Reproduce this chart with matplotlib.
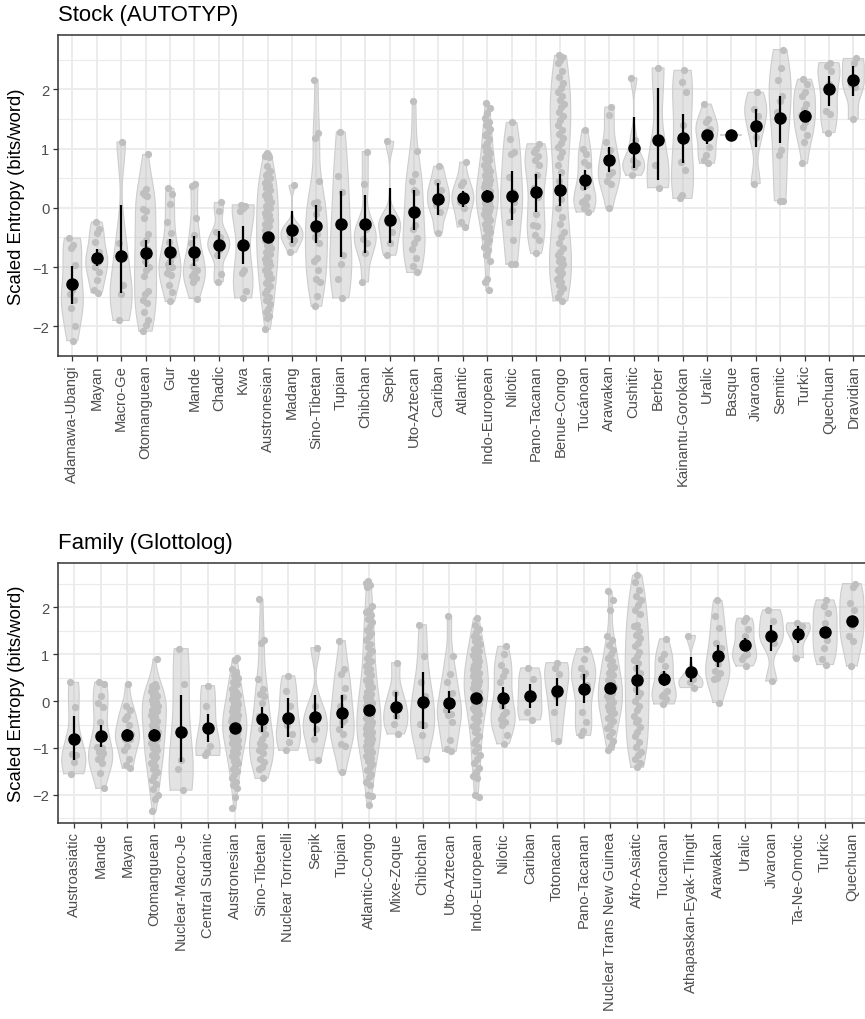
import numpy as np
import matplotlib
matplotlib.use("Agg")
import matplotlib.pyplot as plt

plt.rcParams['font.family'] = ['Liberation Sans', 'DejaVu Sans']

# ---------------- Panel 1: Stock (AUTOTYP) ----------------
stock_names = ["Adamawa-Ubangi", "Mayan", "Macro-Ge", "Otomanguean", "Gur", "Mande", "Chadic", "Kwa",
               "Austronesian", "Madang", "Sino-Tibetan", "Tupian", "Chibchan", "Sepik", "Uto-Aztecan",
               "Cariban", "Atlantic", "Indo-European", "Nilotic", "Pano-Tacanan", "Benue-Congo",
               "Tucánoan", "Arawakan", "Cushitic", "Berber", "Kainantu-Gorokan", "Uralic", "Basque",
               "Jivaroan", "Semitic", "Turkic", "Quechuan", "Dravidian"]

st_adamawa = [-0.51, -0.62, -0.68, -0.96, -1.38, -1.45, -1.55, -1.69, -2.0, -2.24]
st_mayan = [-0.24, -0.35, -0.42, -0.58, -0.75, -0.82, -0.88, -0.92, -1.0, -1.08, -1.22, -1.38, -1.43]
st_macro_ge = [1.11, -0.6, -1.3, -1.45, -1.9]
st_otomanguean = [0.9, 0.32, 0.25, 0.2, 0.22, -0.02, -0.05, -0.18, -0.45, -0.55, -0.6, -0.7, -0.9, -1.0,
                  -1.05, -1.15, -1.4, -1.45, -1.55, -1.6, -1.75, -1.9, -1.98, -2.08]
st_gur = [0.33, 0.24, 0.06, -0.24, -0.43, -0.57, -0.8, -0.9, -0.95, -1.0, -1.02, -1.1, -1.13, -1.3, -1.42, -1.58]
st_mande = [0.41, 0.36, -0.17, -0.46, -0.6, -0.85, -0.99, -1.05, -1.1, -1.15, -1.18, -1.25, -1.53]
st_chadic = [0.09, -0.05, -0.4, -0.5, -0.57, -0.65, -0.71, -0.8, -1.12, -1.25]
st_kwa = [0.05, 0.03, 0.0, -0.05, -1.05, -1.1, -1.4, -1.52]
st_austronesian = [0.92, 0.88, 0.86, 0.7, 0.62, 0.58, 0.55, 0.5, 0.47, 0.42, 0.38, 0.33, 0.3, 0.26, 0.22,
                   0.18, 0.15, 0.1, 0.07, 0.03, 0.0, -0.04, -0.08, -0.12, -0.15, -0.2, -0.23, -0.27, -0.3,
                   -0.34, -0.38, -0.42, -0.45, -0.48, -0.52, -0.55, -0.6, -0.63, -0.67, -0.7, -0.74, -0.78,
                   -0.82, -0.86, -0.9, -0.93, -0.97, -1.0, -1.05, -1.1, -1.14, -1.18, -1.22, -1.27, -1.32,
                   -1.38, -1.43, -1.5, -1.56, -1.62, -1.7, -1.76, -1.82, -1.86, -2.05]
st_madang = [0.38, -0.3, -0.35, -0.42, -0.48, -0.55, -0.6, -0.75]
st_sino_tibetan = [2.16, 1.27, 1.18, 0.45, 0.1, 0.08, 0.0, -0.1, -0.35, -0.45, -0.5, -0.6, -0.85, -0.9,
                   -1.05, -1.2, -1.25, -1.48, -1.66]
st_tupian = [1.28, 0.53, 0.27, -0.29, -0.79, -0.94, -1.2, -1.52]
st_chibchan = [0.95, 0.41, -0.3, -0.35, -0.52, -0.6, -0.77, -1.25]
st_sepik = [1.12, -0.18, -0.25, -0.4, -0.6, -0.8]
st_uto_aztecan = [1.8, 0.96, 0.57, 0.46, 0.27, 0.3, -0.05, -0.29, -0.35, -0.51, -0.6, -0.7, -0.85, -0.99, -1.09]
st_cariban = [0.7, 0.43, 0.3, 0.18, 0.04, -0.07, -0.42]
st_atlantic = [0.77, 0.43, 0.38, 0.2, 0.15, 0.1, -0.01, -0.24, -0.32]
st_indo_european = [1.77, 1.68, 1.6, 1.52, 1.45, 1.4, 1.33, 1.28, 1.22, 1.16, 1.1, 1.05, 1.0, 0.96, 0.92,
                    0.88, 0.84, 0.8, 0.76, 0.72, 0.69, 0.66, 0.62, 0.59, 0.56, 0.53, 0.5, 0.47, 0.45, 0.42,
                    0.4, 0.37, 0.35, 0.32, 0.3, 0.28, 0.26, 0.24, 0.22, 0.2, 0.18, 0.16, 0.14, 0.12, 0.1,
                    0.08, 0.06, 0.04, 0.02, 0.0, -0.02, -0.05, -0.08, -0.1, -0.13, -0.16, -0.2, -0.24,
                    -0.28, -0.32, -0.36, -0.4, -0.45, -0.5, -0.55, -0.6, -0.66, -0.72, -0.8, -0.9, -1.2,
                    -1.25, -1.39]
st_nilotic = [1.44, 1.16, 0.94, 0.9, 0.52, 0.27, 0.21, 0.1, -0.04, -0.24, -0.55, -0.94, -0.95]
st_pano_tacanan = [1.08, 1.0, 0.95, 0.88, 0.8, 0.72, 0.55, 0.33, 0.19, -0.1, -0.29, -0.3, -0.46, -0.54, -0.77]
st_benue_congo = [2.57, 2.54, 2.5, 2.45, 2.3, 2.2, 2.1, 2.02, 1.95, 1.88, 1.82, 1.75, 1.7, 1.62, 1.55, 1.48,
                  1.4, 1.32, 1.25, 1.18, 1.1, 1.02, 0.95, 0.85, 0.72, 0.6, 0.45, 0.3, 0.15, 0.0, -0.15,
                  -0.28, -0.4, -0.5, -0.6, -0.68, -0.75, -0.8, -0.86, -0.9, -0.95, -1.0, -1.05, -1.1,
                  -1.15, -1.2, -1.25, -1.3, -1.35, -1.42, -1.5, -1.57]
st_tucanoan = [1.32, 1.0, 0.91, 0.77, 0.72, 0.38, 0.35, 0.18, 0.13, 0.1, 0.05, -0.01, -0.07]
st_arawakan = [1.7, 1.56, 1.11, 0.97, 0.8, 0.6, 0.55, 0.46, 0.41, 0.0]
st_cushitic = [2.19, 1.14, 0.8, 0.75, 0.69, 0.55]
st_berber = [2.36, 0.73, 0.34]
st_kainantu = [2.32, 2.13, 1.95, 1.39, 0.77, 0.63, 0.21, 0.16]
st_uralic = [1.75, 1.5, 1.45, 1.33, 1.3, 1.22, 1.03, 0.89, 0.8, 0.75]
st_basque = [1.23]
st_jivaroan = [1.95, 1.67, 1.55, 1.19, 0.41]
st_semitic = [2.67, 2.36, 2.16, 1.89, 1.8, 1.61, 0.97, 0.89, 0.12, 0.12]
st_turkic = [2.17, 2.09, 1.95, 1.89, 1.75, 1.67, 1.56, 1.45, 1.36, 1.22, 1.11, 0.75]
st_quechuan = [2.45, 2.4, 2.3, 2.09, 1.64, 1.59, 1.27]
st_dravidian = [2.52, 2.45, 2.09, 2.03, 1.5]

stock_values = [st_adamawa, st_mayan, st_macro_ge, st_otomanguean, st_gur, st_mande, st_chadic, st_kwa,
                st_austronesian, st_madang, st_sino_tibetan, st_tupian, st_chibchan, st_sepik,
                st_uto_aztecan, st_cariban, st_atlantic, st_indo_european, st_nilotic, st_pano_tacanan,
                st_benue_congo, st_tucanoan, st_arawakan, st_cushitic, st_berber, st_kainantu, st_uralic,
                st_basque, st_jivaroan, st_semitic, st_turkic, st_quechuan, st_dravidian]

stock_mean = [-1.28, -0.84, -0.82, -0.77, -0.74, -0.74, -0.62, -0.62, -0.5, -0.37, -0.3, -0.28, -0.27,
              -0.2, -0.07, 0.15, 0.16, 0.2, 0.2, 0.26, 0.3, 0.47, 0.8, 1.01, 1.15, 1.18, 1.22, 1.23,
              1.38, 1.51, 1.55, 2.0, 2.16]
stock_lo = [-1.62, -0.98, -1.43, -1.0, -0.96, -0.98, -0.86, -0.95, -0.6, -0.6, -0.6, -0.83, -0.76,
            -0.6, -0.38, -0.12, 0.02, 0.1, -0.2, -0.07, 0.03, 0.3, 0.6, 0.67, 0.47, 0.75, 1.08, 1.23,
            1.02, 1.1, 1.48, 1.72, 1.88]
stock_hi = [-0.98, -0.7, 0.05, -0.55, -0.53, -0.48, -0.39, -0.3, -0.4, -0.06, 0.05, 0.28, 0.21,
            0.34, 0.3, 0.42, 0.28, 0.3, 0.62, 0.57, 0.57, 0.63, 1.02, 1.53, 2.02, 1.58, 1.32, 1.23,
            1.66, 1.89, 1.65, 2.23, 2.39]

# ---------------- Panel 2: Family (Glottolog) ----------------
family_names = ["Austroasiatic", "Mande", "Mayan", "Otomanguean", "Nuclear-Macro-Je", "Central Sudanic",
                "Austronesian", "Sino-Tibetan", "Nuclear Torricelli", "Sepik", "Tupian", "Atlantic-Congo",
                "Mixe-Zoque", "Chibchan", "Uto-Aztecan", "Indo-European", "Nilotic", "Cariban",
                "Totonacan", "Pano-Tacanan", "Nuclear Trans New Guinea", "Afro-Asiatic", "Tucanoan",
                "Athapaskan-Eyak-Tlingit", "Arawakan", "Uralic", "Jivaroan", "Ta-Ne-Omotic", "Turkic",
                "Quechuan"]

fm_austroasiatic = [0.4, -0.13, -1.12, -1.15, -1.31, -1.55]
fm_mande = [0.41, 0.36, 0.11, -0.03, -0.13, -0.45, -0.98, -1.0, -1.09, -1.1, -1.2, -1.23, -1.33, -1.53, -1.86]
fm_mayan = [0.36, -0.1, -0.2, -0.31, -0.38, -0.52, -0.66, -0.7, -0.75, -0.8, -0.81, -0.95, -1.05, -1.23,
            -1.37, -1.43]
fm_otomanguean = [0.9, 0.36, 0.33, 0.3, 0.26, 0.22, 0.18, 0.14, 0.1, 0.06, 0.02, -0.02, -0.06, -0.1, -0.14,
                  -0.18, -0.22, -0.26, -0.3, -0.34, -0.38, -0.42, -0.46, -0.5, -0.55, -0.6, -0.65, -0.7,
                  -0.75, -0.8, -0.85, -0.9, -0.95, -1.0, -1.05, -1.1, -1.15, -1.2, -1.26, -1.32, -1.38,
                  -1.45, -1.52, -1.6, -1.68, -1.78, -1.88, -2.0, -2.1, -2.35]
fm_macro_je = [1.12, 0.37, -1.26, -1.44, -1.9]
fm_central_sudanic = [0.33, -0.11, -0.95, -1.09, -1.16]
fm_austronesian = [0.92, 0.88, 0.68, 0.62, 0.55, 0.5, 0.45, 0.4, 0.36, 0.3, 0.26, 0.2, 0.16, 0.12, 0.08,
                   0.04, 0.0, -0.03, -0.06, -0.1, -0.13, -0.16, -0.2, -0.22, -0.25, -0.28, -0.3, -0.33,
                   -0.35, -0.38, -0.4, -0.43, -0.45, -0.48, -0.5, -0.52, -0.55, -0.57, -0.6, -0.62, -0.65,
                   -0.67, -0.7, -0.72, -0.75, -0.78, -0.8, -0.83, -0.86, -0.89, -0.92, -0.95, -0.98, -1.02,
                   -1.06, -1.1, -1.14, -1.18, -1.23, -1.28, -1.33, -1.38, -1.44, -1.5, -1.57, -1.64, -1.72,
                   -1.8, -1.86, -2.04, -2.29]
fm_sino_tibetan = [2.17, 1.3, 1.23, 0.48, 0.25, 0.15, 0.1, -0.03, -0.31, -0.56, -0.6, -0.7, -0.81, -0.9,
                   -0.95, -1.0, -1.05, -1.1, -1.23, -1.3, -1.4, -1.45, -1.65]
fm_torricelli = [0.54, 0.22, -0.1, -0.52, -0.7, -0.88, -1.05]
fm_sepik = [1.14, -0.1, -0.38, -0.6, -0.81, -1.26]
fm_tupian = [1.29, 0.68, 0.57, 0.27, 0.08, -0.1, -0.4, -0.45, -0.6, -0.7, -0.91, -0.95, -1.51]
fm_atlantic_congo = [2.57, 2.53, 2.48, 2.44, 2.02, 1.95, 1.9, 1.84, 1.75, 1.68, 1.6, 1.52, 1.45, 1.38, 1.3,
                     1.22, 1.15, 1.08, 1.0, 0.93, 0.86, 0.8, 0.74, 0.68, 0.62, 0.56, 0.5, 0.45, 0.4, 0.35,
                     0.3, 0.25, 0.2, 0.16, 0.12, 0.08, 0.04, 0.0, -0.03, -0.06, -0.1, -0.13, -0.16, -0.2,
                     -0.23, -0.26, -0.29, -0.32, -0.35, -0.38, -0.41, -0.44, -0.47, -0.5, -0.52, -0.55,
                     -0.58, -0.6, -0.63, -0.66, -0.68, -0.71, -0.74, -0.77, -0.8, -0.83, -0.86, -0.89,
                     -0.92, -0.96, -1.0, -1.04, -1.08, -1.12, -1.17, -1.22, -1.28, -1.34, -1.4, -1.47,
                     -1.55, -1.63, -1.72, -1.79, -2.0, -2.03, -2.22]
fm_mixe_zoque = [0.82, 0.18, -0.1, -0.31, -0.49, -0.7]
fm_chibchan = [1.63, 0.96, 0.4, 0.11, -0.1, -0.49, -0.5, -0.73, -1.23]
fm_uto_aztecan = [1.81, 0.96, 0.57, 0.4, 0.18, -0.1, -0.2, -0.28, -0.3, -0.45, -0.84, -1.02, -1.07]
fm_indo_european = [1.77, 1.63, 1.55, 1.48, 1.4, 1.34, 1.28, 1.22, 1.17, 1.12, 1.07, 1.02, 0.98, 0.94, 0.9,
                    0.86, 0.82, 0.78, 0.75, 0.72, 0.68, 0.65, 0.62, 0.59, 0.56, 0.53, 0.5, 0.47, 0.44,
                    0.41, 0.38, 0.35, 0.32, 0.29, 0.26, 0.23, 0.2, 0.17, 0.14, 0.11, 0.08, 0.05, 0.02,
                    -0.02, -0.06, -0.1, -0.14, -0.18, -0.22, -0.27, -0.32, -0.37, -0.42, -0.48, -0.54,
                    -0.6, -0.67, -0.74, -0.82, -0.9, -0.98, -1.06, -1.15, -1.24, -1.33, -1.42, -1.52,
                    -1.6, -1.65, -2.0, -2.04]
fm_nilotic = [1.17, 1.0, 0.78, 0.64, 0.54, 0.4, 0.11, -0.1, -0.24, -0.3, -0.38, -0.45, -0.52, -0.73, -0.91]
fm_cariban = [0.71, 0.47, 0.11, -0.24, -0.4]
fm_totonacan = [0.82, 0.71, 0.57, 0.11, -0.24, -0.86]
fm_pano_tacanan = [1.12, 0.89, 0.71, 0.6, 0.54, 0.35, 0.25, -0.24, -0.45, -0.63, -0.73]
fm_ntng = [2.34, 2.16, 1.95, 1.38, 1.3, 1.2, 1.1, 1.0, 0.92, 0.85, 0.78, 0.72, 0.66, 0.6, 0.55, 0.5, 0.45,
           0.4, 0.35, 0.3, 0.26, 0.22, 0.18, 0.14, 0.1, 0.06, 0.02, -0.02, -0.06, -0.1, -0.15, -0.2,
           -0.25, -0.3, -0.36, -0.42, -0.5, -0.58, -0.66, -0.75, -0.85, -0.95, -1.05]
fm_afro_asiatic = [2.69, 2.55, 2.37, 2.25, 2.16, 2.05, 1.95, 1.85, 1.63, 1.6, 1.5, 1.42, 1.35, 1.25, 1.17,
                   1.05, 0.96, 0.88, 0.82, 0.7, 0.61, 0.52, 0.47, 0.38, 0.25, 0.18, 0.11, 0.0, -0.1, -0.2,
                   -0.31, -0.4, -0.45, -0.55, -0.66, -0.75, -0.88, -0.98, -1.09, -1.15, -1.23, -1.32, -1.41]
fm_tucanoan = [1.33, 1.0, 0.89, 0.75, 0.57, 0.22, 0.15, 0.1, 0.04, -0.06]
fm_athapaskan = [1.4, 0.47, 0.4, 0.29]
fm_arawakan = [2.15, 1.81, 1.56, 1.24, 1.14, 0.8, 0.64, 0.6, 0.5, 0.47, -0.03]
fm_uralic = [1.77, 1.7, 1.53, 1.38, 1.17, 1.0, 0.96, 0.9, 0.75]
fm_jivaroan = [1.95, 1.7, 1.42, 1.24, 0.43]
fm_ta_ne_omotic = [1.67, 1.6, 1.38, 0.93]
fm_turkic = [2.16, 2.02, 1.88, 1.67, 1.45, 1.31, 1.14, 0.89, 0.78]
fm_quechuan = [2.51, 2.44, 2.09, 1.95, 1.6, 1.38, 1.28, 0.75]

family_values = [fm_austroasiatic, fm_mande, fm_mayan, fm_otomanguean, fm_macro_je, fm_central_sudanic,
                 fm_austronesian, fm_sino_tibetan, fm_torricelli, fm_sepik, fm_tupian, fm_atlantic_congo,
                 fm_mixe_zoque, fm_chibchan, fm_uto_aztecan, fm_indo_european, fm_nilotic, fm_cariban,
                 fm_totonacan, fm_pano_tacanan, fm_ntng, fm_afro_asiatic, fm_tucanoan, fm_athapaskan,
                 fm_arawakan, fm_uralic, fm_jivaroan, fm_ta_ne_omotic, fm_turkic, fm_quechuan]

family_mean = [-0.81, -0.75, -0.73, -0.72, -0.65, -0.58, -0.58, -0.39, -0.37, -0.34, -0.25, -0.19,
               -0.12, -0.02, -0.03, 0.06, 0.07, 0.1, 0.22, 0.26, 0.28, 0.45, 0.47, 0.62, 0.97, 1.2,
               1.38, 1.44, 1.47, 1.72]
family_lo = [-1.25, -0.98, -0.85, -0.86, -1.3, -0.87, -0.64, -0.65, -0.77, -0.74, -0.58, -0.24,
             -0.38, -0.6, -0.25, 0.0, -0.17, -0.15, -0.1, -0.05, 0.2, 0.12, 0.33, 0.4, 0.72, 1.07,
             1.07, 1.25, 1.38, 1.6]
family_hi = [-0.32, -0.52, -0.6, -0.6, 0.12, -0.28, -0.52, -0.12, 0.06, 0.14, 0.13, -0.14,
             0.2, 0.63, 0.22, 0.12, 0.3, 0.36, 0.5, 0.58, 0.35, 0.77, 0.64, 0.95, 1.2, 1.35,
             1.63, 1.6, 1.57, 1.82]

# ---------------- styling ----------------
VIOLIN_FILL = '#bdbdbd'
VIOLIN_ALPHA = 0.42
VIOLIN_EDGE = '#cdcdcd'
POINT_COL = '#bfbfbf'
GRID_COL = '#ebebeb'
BORDER_COL = '#333333'
TICKLAB_COL = '#4d4d4d'


def nrd0(x):
    x = np.asarray(x, float)
    n = len(x)
    hi = x.std(ddof=1)
    q75, q25 = np.percentile(x, [75, 25])
    lo = min(hi, (q75 - q25) / 1.34)
    if not lo:
        lo = hi or abs(x[0]) or 1.0
    return 0.9 * lo * n ** (-0.2)


def draw_panel(ax, names, values, means, los, his, title):
    n = len(names)
    for i, vals in enumerate(values):
        v = np.asarray(vals, float)
        if len(v) > 1:
            h = nrd0(v)
            grid = np.linspace(v.min(), v.max(), 512)
            dens = np.exp(-0.5 * ((grid[:, None] - v[None, :]) / h) ** 2).sum(axis=1)
            half = 0.45 * dens / dens.max()
            ax.fill_betweenx(grid, i - half, i + half, facecolor=VIOLIN_FILL, alpha=VIOLIN_ALPHA,
                             edgecolor='none', zorder=2)
            ax.plot(np.concatenate([i - half, (i + half)[::-1], [i - half[0]]]),
                    np.concatenate([grid, grid[::-1], [grid[0]]]),
                    color=VIOLIN_EDGE, lw=0.8, zorder=2.1)
        else:
            ax.hlines(v[0], i - 0.45, i + 0.45, color=VIOLIN_EDGE, lw=1.2, zorder=2)
        k = np.arange(len(v))
        jit = ((k * 0.6180339887 + 0.31 * i) % 1.0 - 0.5) * 0.26
        ax.scatter(i + jit, v, s=27, color=POINT_COL, linewidths=0, zorder=3)
    pos = np.arange(n)
    ax.vlines(pos, los, his, color='black', lw=1.6, zorder=4)
    ax.plot(pos, means, 'o', color='black', ms=8.0, zorder=5)

    allv = np.concatenate([np.asarray(v, float) for v in values])
    lo_, hi_ = allv.min(), allv.max()
    pad = 0.05 * (hi_ - lo_)
    ax.set_ylim(lo_ - pad, hi_ + pad)
    ax.set_xlim(-0.6, n - 1 + 0.6)

    ax.set_xticks(pos)
    ax.set_xticklabels(names, rotation=90, ha='center', va='top')
    ax.set_yticks([-2, -1, 0, 1, 2])
    ax.set_yticks([-2.5, -1.5, -0.5, 0.5, 1.5, 2.5], minor=True)
    ax.set_xticks([], minor=True)
    ax.grid(which='major', color=GRID_COL, lw=1.3, zorder=0)
    ax.grid(which='minor', axis='y', color=GRID_COL, lw=0.8, zorder=0)
    ax.set_axisbelow(True)
    ax.tick_params(which='major', direction='out', length=3.3, width=0.9, color=BORDER_COL,
                   labelsize=10.6, labelcolor=TICKLAB_COL, pad=2.6)
    ax.tick_params(which='minor', length=0)
    for s in ax.spines.values():
        s.set_color(BORDER_COL)
        s.set_linewidth(1.1)
    ax.set_title(title, loc='left', fontsize=15.9, pad=11)


W, H = 865, 1020
fig = plt.figure(figsize=(W / 100, H / 100), dpi=100)
left, right = 57.7, 868.0
ax1 = fig.add_axes([left / W, 1 - 357 / H, (right - left) / W, (357 - 36) / H])
ax2 = fig.add_axes([left / W, 1 - 824 / H, (right - left) / W, (824 - 564.3) / H])

draw_panel(ax1, stock_names, stock_values, stock_mean, stock_lo, stock_hi, "Stock (AUTOTYP)")
draw_panel(ax2, family_names, family_values, family_mean, family_lo, family_hi, "Family (Glottolog)")

fig.text(16.5 / W, 1 - 196.5 / H, "Scaled Entropy (bits/word)", rotation=90, ha='center', va='center',
         fontsize=13.3)
fig.text(16.5 / W, 1 - 694 / H, "Scaled Entropy (bits/word)", rotation=90, ha='center', va='center',
         fontsize=13.3)

fig.savefig("out.png", dpi=100)
